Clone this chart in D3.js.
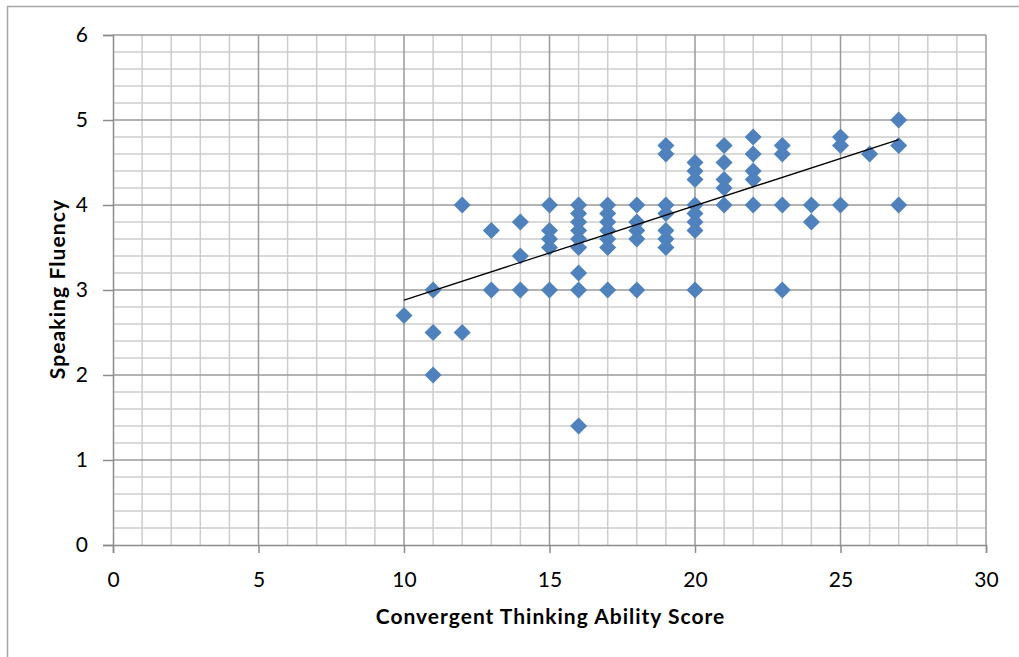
<!DOCTYPE html>
<html>
<head>
<meta charset="utf-8">
<script src="https://cdn.jsdelivr.net/npm/d3@7"></script>
<style>
  html, body { margin: 0; padding: 0; background: #fff; }
  svg { display: block; }
  text { font-family: Lato, "Open Sans", sans-serif; fill: #000; }
</style>
</head>
<body>
<svg id="chart" width="1019" height="657"></svg>
<script>
// ---- data ----
const xScores = [
  10,
  11, 11, 11,
  12, 12,
  13, 13,
  14, 14, 14,
  15, 15, 15, 15, 15,
  16, 16, 16, 16, 16, 16, 16, 16, 16,
  17, 17, 17, 17, 17, 17, 17,
  18, 18, 18, 18, 18,
  19, 19, 19, 19, 19, 19, 19,
  20, 20, 20, 20, 20, 20, 20, 20,
  21, 21, 21, 21, 21,
  22, 22, 22, 22, 22,
  23, 23, 23, 23,
  24, 24,
  25, 25, 25,
  26,
  27, 27, 27
];
const fluency = [
  2.7,
  3.0, 2.5, 2.0,
  4.0, 2.5,
  3.7, 3.0,
  3.8, 3.4, 3.0,
  4.0, 3.7, 3.6, 3.5, 3.0,
  4.0, 3.9, 3.8, 3.7, 3.6, 3.5, 3.2, 3.0, 1.4,
  4.0, 3.9, 3.8, 3.7, 3.6, 3.5, 3.0,
  4.0, 3.8, 3.7, 3.6, 3.0,
  4.7, 4.6, 4.0, 3.9, 3.7, 3.6, 3.5,
  4.5, 4.4, 4.3, 4.0, 3.9, 3.8, 3.7, 3.0,
  4.7, 4.5, 4.3, 4.2, 4.0,
  4.8, 4.6, 4.4, 4.3, 4.0,
  4.7, 4.6, 4.0, 3.0,
  4.0, 3.8,
  4.8, 4.7, 4.0,
  4.6,
  5.0, 4.7, 4.0
];
// linear trendline as drawn (start/end x and y)
const trendX = [10, 27];
const trendY = [2.88, 4.77];

const xTicks = [0, 5, 10, 15, 20, 25, 30];
const yTicks = [0, 1, 2, 3, 4, 5, 6];
const xTitle = "Convergent Thinking Ability Score";
const yTitle = "Speaking Fluency";

// ---- layout ----
const svg = d3.select("#chart");
const plotL = 113, plotR = 986, plotT = 35, plotB = 545;

const x = d3.scaleLinear().domain([0, 30]).range([plotL, plotR]);
const y = d3.scaleLinear().domain([0, 6]).range([plotB, plotT]);

// outer chart frame
svg.append("rect")
  .attr("x", 7.5).attr("y", 6.5)
  .attr("width", 1040).attr("height", 700)
  .attr("fill", "none").attr("stroke", "#a6a6a6").attr("stroke-width", 1.5);

const grid = svg.append("g");
// minor gridlines
grid.selectAll("line.vminor")
  .data(d3.range(0, 31, 1).filter(v => v % 5 !== 0))
  .join("line")
  .attr("x1", d => x(d)).attr("x2", d => x(d))
  .attr("y1", plotT).attr("y2", plotB)
  .attr("stroke", "#cdcdcd").attr("stroke-width", 1.5);
grid.selectAll("line.hminor")
  .data(d3.range(0, 31, 1).filter(i => i % 5 !== 0).map(i => i / 5))
  .join("line")
  .attr("x1", plotL).attr("x2", plotR)
  .attr("y1", d => y(d)).attr("y2", d => y(d))
  .attr("stroke", "#cdcdcd").attr("stroke-width", 1.5);
// major gridlines
grid.selectAll("line.vmajor")
  .data(xTicks.slice(1))
  .join("line")
  .attr("x1", d => x(d)).attr("x2", d => x(d))
  .attr("y1", plotT).attr("y2", plotB)
  .attr("stroke", "#9a9a9a").attr("stroke-width", 1.5);
grid.selectAll("line.hmajor")
  .data(yTicks.slice(1))
  .join("line")
  .attr("x1", plotL).attr("x2", plotR)
  .attr("y1", d => y(d)).attr("y2", d => y(d))
  .attr("stroke", "#9a9a9a").attr("stroke-width", 1.5);

// axes
const xAxis = d3.axisBottom(x).tickValues(xTicks).tickSize(8).tickPadding(19).tickFormat(d3.format("d"));
const yAxis = d3.axisLeft(y).tickValues(yTicks).tickSize(10).tickPadding(15).tickFormat(d3.format("d"));

const gx = svg.append("g").attr("transform", `translate(0,${plotB})`).call(xAxis);
const gy = svg.append("g").attr("transform", `translate(${plotL},0)`).call(yAxis);
[gx, gy].forEach(g => {
  g.selectAll("path.domain").attr("stroke", "#8c8c8c").attr("stroke-width", 1.5);
  g.selectAll(".tick line").attr("stroke", "#8c8c8c").attr("stroke-width", 1.5);
  g.selectAll(".tick text").attr("font-size", 21).attr("font-family", "Lato, sans-serif").attr("fill", "#000");
});

// points (diamonds)
const pts = xScores.map((v, i) => ({ x: v, y: fluency[i] }));
svg.append("g").selectAll("path")
  .data(pts)
  .join("path")
  .attr("transform", d => `translate(${x(d.x)},${y(d.y)}) rotate(45)`)
  .attr("d", d3.symbol().type(d3.symbolSquare).size(145))
  .attr("fill", "#4f81bd");

// trendline
const trend = trendX.map((v, i) => [v, trendY[i]]);
svg.append("path")
  .datum(trend)
  .attr("d", d3.line().x(d => x(d[0])).y(d => y(d[1])))
  .attr("stroke", "#000").attr("stroke-width", 1.3).attr("fill", "none");

// axis titles
svg.append("text")
  .attr("x", (plotL + plotR) / 2 + 1).attr("y", 624)
  .attr("text-anchor", "middle")
  .attr("font-size", 21).attr("font-weight", "bold")
  .attr("letter-spacing", "1px")
  .text(xTitle);
svg.append("text")
  .attr("transform", `translate(65,${(plotT + plotB) / 2 - 1}) rotate(-90)`)
  .attr("text-anchor", "middle")
  .attr("font-size", 21).attr("font-weight", "bold")
  .attr("letter-spacing", "1.1px")
  .text(yTitle);
</script>
</body>
</html>
